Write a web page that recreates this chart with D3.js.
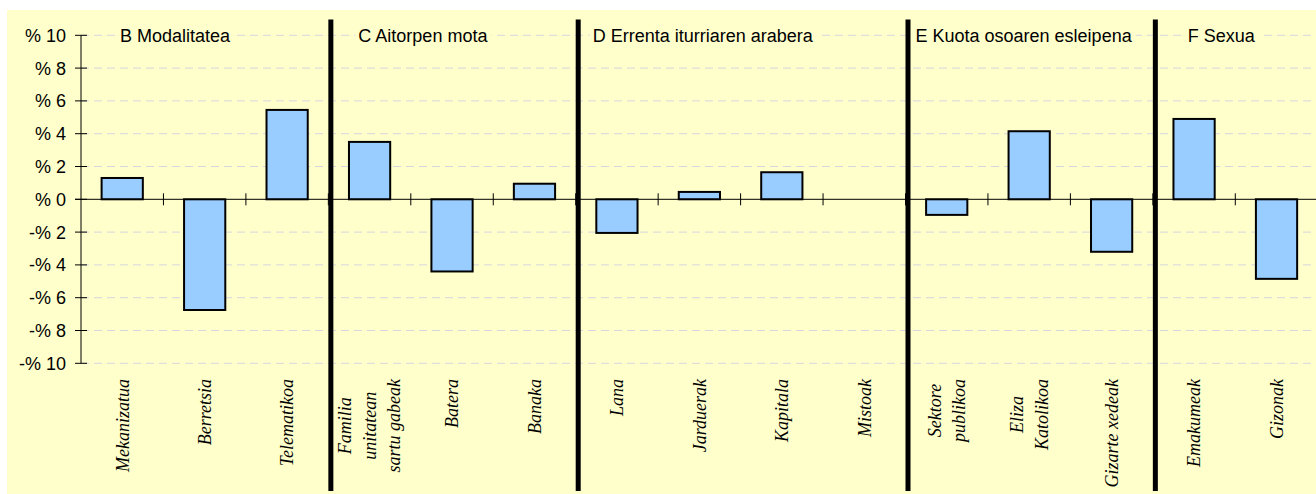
<!DOCTYPE html>
<html>
<head>
<meta charset="utf-8">
<script src="https://cdn.jsdelivr.net/npm/d3@7"></script>
<style>
  html, body { margin: 0; padding: 0; background: #ffffff; }
  svg { display: block; }
</style>
</head>
<body>
<script>
// Categories, grouped by breakdown; "\n" marks a line break in the axis label
const categories = [
  "Mekanizatua", "Berretsia", "Telematikoa",
  "Familia\nunitatean\nsartu gabeak", "Batera", "Banaka",
  "Lana", "Jarduerak", "Kapitala", "Mistoak",
  "Sektore\npublikoa", "Eliza\nKatolikoa", "Gizarte xedeak",
  "Emakumeak", "Gizonak"
];
// Percentage change per category
const values = [
  1.3, -6.75, 5.45,
  3.5, -4.4, 0.95,
  -2.05, 0.45, 1.65, 0,
  -0.95, 4.15, -3.2,
  4.9, -4.85
];
// Group titles and the number of categories in each group
const groupTitles = [
  "B Modalitatea", "C Aitorpen mota", "D Errenta iturriaren arabera",
  "E Kuota osoaren esleipena", "F Sexua"
];
const groupSizes = [3, 3, 4, 3, 2];
// Value-axis ticks and their labels
const yTicks = [-10, -8, -6, -4, -2, 0, 2, 4, 6, 8, 10];
const yTickLabels = ["-% 10", "-% 8", "-% 6", "-% 4", "-% 2", "% 0", "% 2", "% 4", "% 6", "% 8", "% 10"];

// Layout
const W = 1316, H = 494;
const plotLeft = 81, step = 82.45;
const plotTop = 35.3, plotBottom = 363.3;
const titleOffsets = [39, 30, 17, 10, 35];
const fontSans = "'Liberation Sans', Arial, sans-serif";
const fontSerif = "'Liberation Serif', 'Times New Roman', serif";

const svg = d3.select("body").append("svg")
  .attr("width", W).attr("height", H);

// Chart area background
svg.append("rect")
  .attr("x", 7).attr("y", 10)
  .attr("width", W - 7).attr("height", H - 10)
  .attr("fill", "#ffffcc");

const x = d3.scaleBand()
  .domain(categories)
  .range([plotLeft, plotLeft + step * categories.length])
  .paddingInner(0.5)
  .paddingOuter(0.25);
const y = d3.scaleLinear().domain([-10, 10]).range([plotBottom, plotTop]);

const catStart = c => x(c) - x.step() * 0.25;
const plotRight = x.range()[1];

// Dashed gridlines
svg.append("g")
  .selectAll("line")
  .data(yTicks.filter(t => t !== 0))
  .join("line")
  .attr("x1", plotLeft).attr("x2", plotRight)
  .attr("y1", d => y(d)).attr("y2", d => y(d))
  .attr("stroke", "#d6d6de")
  .attr("stroke-width", 1)
  .attr("stroke-dasharray", "8,5");

// Value axis with crossing ticks
const yAxisG = svg.append("g");
yAxisG.append("line")
  .attr("x1", plotLeft).attr("x2", plotLeft)
  .attr("y1", y(10)).attr("y2", y(-10))
  .attr("stroke", "#000").attr("stroke-width", 1);
yAxisG.selectAll("line.tick")
  .data(yTicks)
  .join("line")
  .attr("class", "tick")
  .attr("x1", plotLeft - 6).attr("x2", plotLeft + 6)
  .attr("y1", d => y(d)).attr("y2", d => y(d))
  .attr("stroke", "#000").attr("stroke-width", 1);
yAxisG.selectAll("text")
  .data(yTicks)
  .join("text")
  .attr("x", plotLeft - 15)
  .attr("y", d => y(d))
  .attr("dy", "0.36em")
  .attr("text-anchor", "end")
  .attr("font-family", fontSans)
  .attr("font-size", 18)
  .attr("fill", "#000")
  .text((d, i) => yTickLabels[i]);

// Bars
svg.append("g")
  .selectAll("rect")
  .data(categories.map((c, i) => ({ c, v: values[i] })))
  .join("rect")
  .attr("x", d => x(d.c))
  .attr("width", x.bandwidth())
  .attr("y", d => y(Math.max(0, d.v)))
  .attr("height", d => Math.abs(y(d.v) - y(0)))
  .attr("fill", "#99ccff")
  .attr("stroke", "#000")
  .attr("stroke-width", 2);

// Zero line and category ticks
svg.append("line")
  .attr("x1", plotLeft - 6).attr("x2", plotRight)
  .attr("y1", y(0)).attr("y2", y(0))
  .attr("stroke", "#000").attr("stroke-width", 1);
svg.append("g")
  .selectAll("line")
  .data(categories.slice(1))
  .join("line")
  .attr("x1", d => catStart(d)).attr("x2", d => catStart(d))
  .attr("y1", y(0) - 6).attr("y2", y(0) + 6)
  .attr("stroke", "#000").attr("stroke-width", 1);

// Category labels, rotated, reading bottom to top
const lineGap = 24.5, labelTop = 379;
const labelG = svg.append("g");
categories.forEach(c => {
  const lines = c.split("\n");
  const g = labelG.append("g")
    .attr("transform", `translate(${x(c) + x.bandwidth() / 2},${labelTop}) rotate(-90)`);
  const texts = lines.map((ln, i) => g.append("text")
    .attr("dy", `${(i - (lines.length - 1) / 2) * lineGap / 18 + 0.35}em`)
    .attr("font-family", fontSerif)
    .attr("font-style", "italic")
    .attr("font-size", 18)
    .attr("fill", "#000")
    .attr("text-anchor", "middle")
    .text(ln));
  const maxLen = d3.max(texts, t => t.node().getComputedTextLength());
  texts.forEach(t => t.attr("x", -maxLen / 2));
});

// Group titles and separators
let idx = 0;
const groupStarts = groupSizes.map(n => { const s = idx; idx += n; return s; });
const titleG = svg.append("g");
groupTitles.forEach((title, i) => {
  const gx = catStart(categories[groupStarts[i]]) + titleOffsets[i];
  const t = titleG.append("text")
    .attr("x", gx).attr("y", y(10))
    .attr("dy", "0.36em")
    .attr("font-family", fontSans)
    .attr("font-size", 18)
    .attr("fill", "#000")
    .text(title);
  const bb = t.node().getBBox();
  titleG.insert("rect", "text")
    .attr("x", bb.x - 3).attr("y", bb.y)
    .attr("width", bb.width + 6).attr("height", bb.height)
    .attr("fill", "#ffffcc");
});

svg.append("g")
  .selectAll("rect")
  .data(groupStarts.slice(1))
  .join("rect")
  .attr("x", d => catStart(categories[d]))
  .attr("y", 19.5)
  .attr("width", 5)
  .attr("height", 491 - 19.5)
  .attr("fill", "#000");
</script>
</body>
</html>
